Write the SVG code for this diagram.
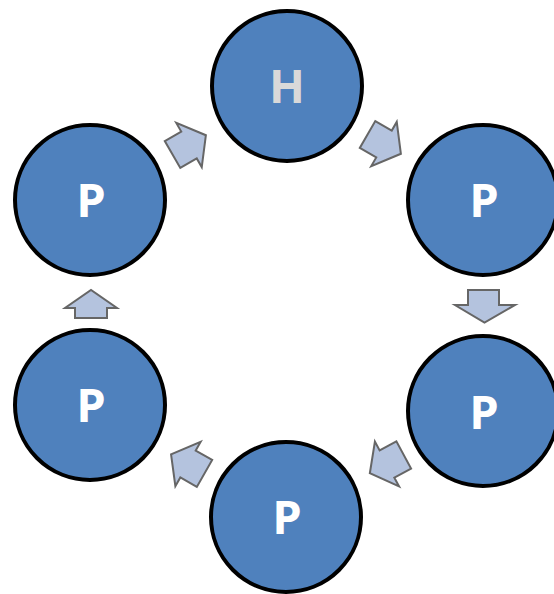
<svg xmlns="http://www.w3.org/2000/svg" xmlns:xlink="http://www.w3.org/1999/xlink" width="554" height="594" viewBox="0 0 554 594">
<style>
.node{fill:#4f81bd;stroke:#000;stroke-width:4}
.lbl{font-family:"Open Sans","Noto Sans",sans-serif;font-weight:bold;font-size:47px;text-anchor:middle;fill:#fff}
.hl{fill:#d9d9d9}
.arr{fill:#b4c3de;stroke:#666;stroke-width:2;stroke-linejoin:miter}
</style>
<defs>
<path id="da" d="M-19,-15.5 H0 V-25.5 L19.5,0 L0,25.5 V15.5 H-19 Z"/>
</defs>
<rect width="554" height="594" fill="#fff"/>
<g id="connectors">
<use xlink:href="#da" class="arr" transform="translate(189,145) rotate(-30)"/>
<use xlink:href="#da" class="arr" transform="translate(384,144) rotate(30)"/>
<path class="arr" d="M468,290 H499 V305 H515 L484.5,322.5 L455,305 H468 Z"/>
<use xlink:href="#da" class="arr" transform="translate(387,464) rotate(151.7)"/>
<use xlink:href="#da" class="arr" transform="translate(188,464) rotate(209.7)"/>
<path class="arr" d="M75,318 V308 H65 L91,290 L117,308 H107 V318 Z"/>
</g>
<g id="node-h"><circle class="node" cx="287" cy="86" r="75"/><text class="lbl hl" x="287" y="103">H</text></g>
<g id="node-p1"><circle class="node" cx="483" cy="200" r="75"/><text class="lbl" x="484" y="217">P</text></g>
<g id="node-p2"><circle class="node" cx="483" cy="411" r="75"/><text class="lbl" x="484" y="429">P</text></g>
<g id="node-p3"><circle class="node" cx="286" cy="517" r="75"/><text class="lbl" x="287" y="534">P</text></g>
<g id="node-p4"><circle class="node" cx="90" cy="405" r="75"/><text class="lbl" x="91" y="422">P</text></g>
<g id="node-p5"><circle class="node" cx="90" cy="200" r="75"/><text class="lbl" x="91" y="217">P</text></g>
</svg>
